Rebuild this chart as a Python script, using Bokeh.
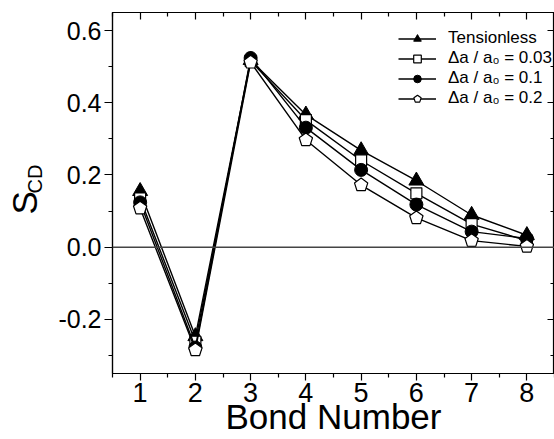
from bokeh.plotting import figure
from bokeh.models import (Range1d, LinearAxis, FixedTicker, PrintfTickFormatter,
                          Span, Legend, LegendItem)
from bokeh.embed import file_html
from bokeh.resources import INLINE

# Order parameter S_CD per carbon bond for each membrane tension
bonds = [1, 2, 3, 4, 5, 6, 7, 8]
tensionless = [0.155, -0.247, 0.518, 0.367, 0.268, 0.184, 0.089, 0.033]
da_003 = [0.135, -0.262, 0.516, 0.352, 0.240, 0.149, 0.064, 0.018]
da_01 = [0.124, -0.278, 0.524, 0.331, 0.214, 0.118, 0.043, 0.024]
da_02 = [0.108, -0.285, 0.512, 0.297, 0.172, 0.081, 0.018, 0.002]

labels = ["Tensionless", "Δa / a₀ = 0.03", "Δa / a₀ = 0.1", "Δa / a₀ = 0.2"]
x_ticks = [1, 2, 3, 4, 5, 6, 7, 8]
x_minor = [0.5, 1.5, 2.5, 3.5, 4.5, 5.5, 6.5, 7.5, 8.5]
y_ticks = [-0.2, 0.0, 0.2, 0.4, 0.6]
y_minor = [-0.3, -0.1, 0.1, 0.3, 0.5]

FONT = "Liberation Sans"
NB = "\u00a0"

p = figure(width=554, height=439, output_backend="svg", toolbar_location=None,
           x_range=Range1d(0.5, 8.5), y_range=Range1d(-0.35, 0.65),
           min_border_left=112, min_border_top=12, min_border_bottom=66,
           min_border_right=0)
p.xgrid.visible = False
p.ygrid.visible = False
p.outline_line_color = "black"
p.outline_line_width = 1.2
p.background_fill_color = "white"
p.border_fill_color = "white"


def style_axis(ax, label_size, tick_in, tick_out, minor_in, minor_out, standoff=3):
    ax.axis_line_color = "black"
    ax.axis_line_width = 1.2
    ax.major_tick_line_color = "black"
    ax.minor_tick_line_color = "black"
    ax.major_tick_line_width = 1.2
    ax.minor_tick_line_width = 1.2
    ax.major_tick_in = tick_in
    ax.major_tick_out = tick_out
    ax.minor_tick_in = minor_in
    ax.minor_tick_out = minor_out
    if label_size:
        ax.major_label_text_font = FONT
        ax.major_label_text_font_size = label_size
        ax.major_label_text_color = "black"
        ax.major_label_standoff = standoff
    else:
        ax.major_label_text_font_size = "0px"
        ax.major_label_standoff = 0


def title_axis(text, size, standoff):
    # an axis that only carries a title: no line, ticks or tick labels
    ax = LinearAxis(ticker=FixedTicker(ticks=[]))
    ax.axis_line_color = None
    ax.major_tick_line_color = None
    ax.minor_tick_line_color = None
    ax.major_tick_in = 0
    ax.major_tick_out = 0
    ax.minor_tick_in = 0
    ax.minor_tick_out = 0
    ax.major_label_text_font_size = "0px"
    ax.major_label_standoff = 0
    ax.axis_label = text
    ax.axis_label_text_font = FONT
    ax.axis_label_text_font_size = size
    ax.axis_label_text_font_style = "normal"
    ax.axis_label_text_color = "black"
    ax.axis_label_standoff = standoff
    return ax


p.xaxis.ticker = FixedTicker(ticks=x_ticks, minor_ticks=x_minor)
style_axis(p.xaxis[0], "27px", 0, 7, 0, 4, standoff=2)
p.xaxis.axis_label = "Bond Number"
p.xaxis.axis_label_text_font = FONT
p.xaxis.axis_label_text_font_size = "35px"
p.xaxis.axis_label_text_font_style = "normal"
p.xaxis.axis_label_text_color = "black"
p.xaxis.axis_label_standoff = -8

p.yaxis.ticker = FixedTicker(ticks=y_ticks, minor_ticks=y_minor)
p.yaxis.formatter = PrintfTickFormatter(format="%.1f")
style_axis(p.yaxis[0], "25px", 0, 8, 0, 4)

# y title "S" with subscript "CD", built from two stacked title axes
p.add_layout(title_axis(NB * 5 + "CD", "20px", 10), "left")
p.add_layout(title_axis("S" + NB * 2, "35px", -23), "left")

top_ax = LinearAxis(ticker=FixedTicker(ticks=x_ticks, minor_ticks=x_minor))
style_axis(top_ax, None, 7, 0, 4, 0)
p.add_layout(top_ax, "above")
right_ax = LinearAxis(ticker=FixedTicker(ticks=y_ticks, minor_ticks=y_minor))
style_axis(right_ax, None, 7, 0, 4, 0)
p.add_layout(right_ax, "right")

# zero reference line
p.add_layout(Span(location=0, dimension="width", line_color="#444444", line_width=1.5))

series = [tensionless, da_003, da_01, da_02]
items = []
for i, vals in enumerate(series):
    ln = p.line(bonds, vals, line_color="black", line_width=1.4)
    if i == 0:
        mk = p.scatter(bonds, vals, marker="triangle", size=15,
                       fill_color="black", line_color="black")
    elif i == 1:
        mk = p.scatter(bonds, vals, marker="square", size=11,
                       fill_color="white", line_color="black", line_width=1.2)
    elif i == 2:
        mk = p.scatter(bonds, vals, marker="circle", size=13,
                       fill_color="black", line_color="black")
    else:
        mk = p.ngon(bonds, vals, radius=7, radius_units="screen", n=5,
                    fill_color="white", line_color="black", line_width=1.2)
    items.append(LegendItem(label=labels[i], renderers=[ln, mk]))

legend = Legend(items=items, location=(286, 265))
legend.label_text_font = FONT
legend.label_text_font_size = "17px"
legend.label_text_color = "black"
legend.border_line_alpha = 0
legend.background_fill_alpha = 0
legend.glyph_width = 38
legend.glyph_height = 19
legend.label_height = 19
legend.label_standoff = 12
legend.spacing = 0
legend.padding = 0
legend.margin = 0
p.add_layout(legend)

open("out.html", "w").write(file_html(p, INLINE))
